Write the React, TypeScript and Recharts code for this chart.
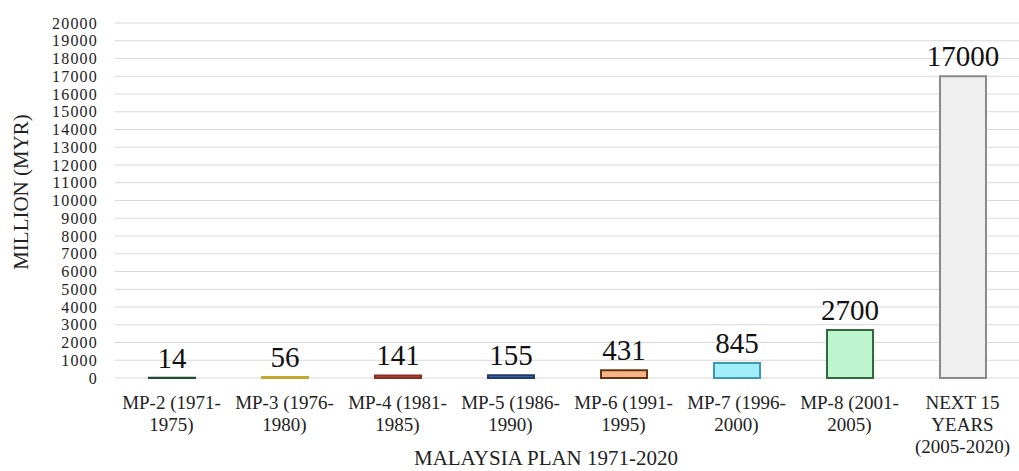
import React from 'react';
import { BarChart, Bar, XAxis, YAxis, CartesianGrid, Cell, LabelList, Label } from 'recharts';

const categories = [
  'MP-2 (1971-\n1975)',
  'MP-3 (1976-\n1980)',
  'MP-4 (1981-\n1985)',
  'MP-5 (1986-\n1990)',
  'MP-6 (1991-\n1995)',
  'MP-7 (1996-\n2000)',
  'MP-8 (2001-\n2005)',
  'NEXT 15\nYEARS\n(2005-2020)',
];
const values = [14, 56, 141, 155, 431, 845, 2700, 17000];
const yTicks = [0, 1000, 2000, 3000, 4000, 5000, 6000, 7000, 8000, 9000, 10000, 11000, 12000, 13000, 14000, 15000, 16000, 17000, 18000, 19000, 20000];

const fills = ['#2f5b3d', '#d9c244', '#c4503e', '#4a6fae', '#f5b587', '#a2edfa', '#bdf5cf', '#efefef'];
const strokes = ['#1f4a2e', '#c4aa30', '#8a2e22', '#1f3a6e', '#6a3012', '#3a9ab0', '#2f6a3a', '#8a8a8a'];

const data = categories.map((c, i) => ({ name: c, value: values[i] }));

const FONT = '"Liberation Serif", "Times New Roman", serif';

const XTick = (props: any) => {
  const { x, y, payload } = props;
  const lines = String(payload.value).split('\n');
  return (
    <text x={x} y={y} textAnchor="middle" fontFamily={FONT} fontSize={19} fill="#222">
      {lines.map((l, i) => (
        <tspan key={i} x={x} y={y + 31 + i * 22}>{l}</tspan>
      ))}
    </text>
  );
};

export default function App() {
  return (
    <div style={{ position: 'absolute', left: 0, top: 0, width: 1019, height: 471, background: '#fff' }}>
      <BarChart
        width={1019}
        height={471}
        data={data}
        margin={{ top: 23, right: 0, bottom: 33, left: 0 }}
        barSize={46}
      >
        <CartesianGrid horizontal vertical={false} stroke="#d9d9d9" strokeWidth={1} />
        <XAxis
          dataKey="name"
          axisLine={false}
          tickLine={false}
          tickSize={0}
          tickMargin={0}
          height={60}
          interval={0}
          tick={<XTick />}
        >
          <Label
            content={(p: any) => {
              const vb = p.viewBox;
              return (
                <text x={vb.x + vb.width / 2 - 21} y={vb.y + 87} textAnchor="middle" fontFamily={FONT} fontSize={21} fill="#222">
                  MALAYSIA PLAN 1971-2020
                </text>
              );
            }}
          />
        </XAxis>
        <YAxis
          width={115}
          domain={[0, 20000]}
          ticks={yTicks}
          interval={0}
          axisLine={false}
          tickLine={false}
          tickSize={0}
          tickMargin={17}
          tick={{ fontFamily: FONT, fontSize: 16, fill: '#222', letterSpacing: 1.2 }}
        >
          <Label
            content={() => (
              <text
                x={21}
                y={192}
                transform="rotate(-90 21 192)"
                textAnchor="middle"
                dominantBaseline="central"
                fontFamily={FONT}
                fontSize={21}
                fill="#222"
              >
                MILLION (MYR)
              </text>
            )}
          />
        </YAxis>
        <Bar dataKey="value" isAnimationActive={false} strokeWidth={2}>
          {data.map((d, i) => (
            <Cell key={i} fill={fills[i]} stroke={strokes[i]} />
          ))}
          <LabelList dataKey="value" position="top" offset={10} fontFamily={FONT} fontSize={29} fill="#111" />
        </Bar>
      </BarChart>
    </div>
  );
}
